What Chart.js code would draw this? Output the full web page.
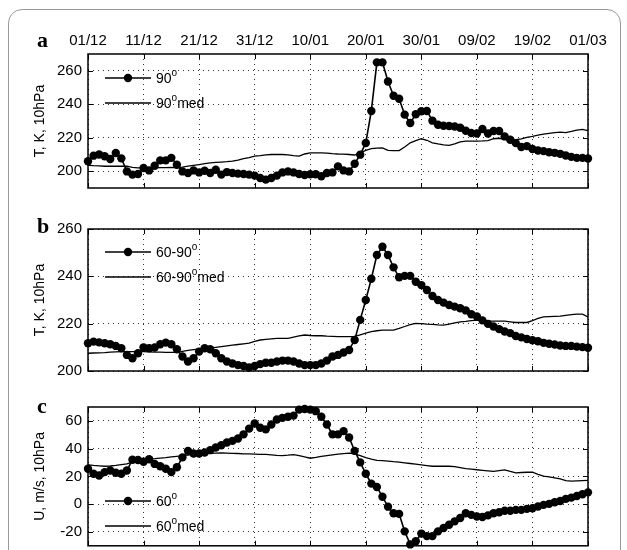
<!DOCTYPE html>
<html>
<head>
<meta charset="utf-8">
<script src="https://cdn.jsdelivr.net/npm/chart.js@4.4.0/dist/chart.umd.min.js"></script>
<style>
  html, body { margin: 0; padding: 0; background: #fff; }
  #wrap { position: relative; width: 627px; height: 550px; overflow: hidden; }
  #frame { position: absolute; left: 8px; top: 9px; width: 613px; height: 620px;
           border: 1.5px solid #999; border-radius: 14px; box-sizing: border-box; }
  canvas { position: absolute; left: 0; top: 0; }
</style>
</head>
<body>
<div id="wrap">
  <div id="frame"></div>
  <canvas id="chartA" width="627" height="550"></canvas>
  <canvas id="chartB" width="627" height="550"></canvas>
  <canvas id="chartC" width="627" height="550"></canvas>
</div>
<script>
// x axis: day index from 01/12 (0) to 01/03 (90)
const xTickDays = [0, 10, 20, 30, 40, 50, 60, 70, 80, 90];
const xTickLabels = ['01/12', '11/12', '21/12', '31/12', '10/01', '20/01', '30/01', '09/02', '19/02', '01/03'];

const yTicksA = [200, 220, 240, 260];
const yTicksB = [200, 220, 240, 260];
const yTicksC = [-20, 0, 20, 40, 60];

// panel a: T at 90N, 10hPa
const t90 = [206, 209.3, 210, 209, 207.3, 210.9, 207.7, 199.9, 198, 198.4,
  201.9, 200.5, 203.3, 206.5, 206.5, 208, 203.9, 199.9, 199, 200.5,
  199.3, 200.3, 199, 200.9, 198, 199.5, 199, 198.6, 198.4, 198,
  197.4, 196, 195, 196, 197.4, 199.3, 199.9, 199.3, 198.4, 197.8,
  198.2, 198.2, 197, 199, 199.3, 202.9, 200.5, 199.9, 204.5, 209.9,
  216.9, 236, 265, 265, 253.6, 245.1, 243.3, 233.8, 228.8, 234,
  235.8, 236, 230.2, 227.8, 227.2, 227, 226.7, 226, 224.2, 222.8,
  222.5, 225.2, 222.5, 224, 224, 220.8, 218.8, 216.8, 214.5, 215,
  213.3, 212.4, 212, 211.3, 211, 210.4, 209.4, 208.6, 208, 208, 207.6];
const t90med = [203.5, 203.3, 203.2, 203, 203, 203, 203, 203, 202.3, 202,
  202, 202, 202, 202.2, 202.2, 202.3, 202.2, 202.5, 203, 203.5,
  204, 204.5, 205, 205.3, 205.5, 205.7, 206, 206.7, 207.5, 208.2,
  209, 209.3, 209.8, 210, 210, 210, 209.8, 209.3, 209, 210.3,
  211, 211, 211, 210.8, 210.5, 210.3, 210.2, 210, 209.7, 211,
  212.5, 213.5, 213.8, 214, 212.5, 212.3, 212.3, 214.5, 217, 218.3,
  219.4, 218.5, 217, 216.3, 215.7, 215.5, 216.3, 217.5, 218, 218,
  218, 218.1, 218.3, 219.4, 219.7, 219.2, 219, 218.8, 219.3, 220.2,
  220.8, 221.5, 222.2, 222.6, 223, 223.3, 223.1, 223.8, 224.6, 225, 224.2];

// panel b: T averaged 60-90N, 10hPa
const t6090 = [211.7, 212.4, 212.1, 211.7, 211.3, 210.6, 209.6, 206.8, 205.4, 207.5,
  210, 209.6, 209.9, 211.3, 212, 211.3, 209.2, 206.1, 204, 205.4,
  208.2, 209.6, 209.2, 207.5, 205.4, 204, 203.2, 202.5, 202.1, 201.5,
  202.1, 202.9, 203.5, 203.5, 204, 204.4, 204.4, 204, 203.2, 202.5,
  202.5, 202.5, 203.2, 204.4, 206.1, 206.8, 207.8, 208.9, 213.1, 221.6,
  230, 239, 249, 252.5, 249, 243.8, 239.6, 240.2, 240.2, 237.7,
  236.3, 234.2, 231.7, 230, 228.9, 227.9, 227.2, 226.5, 225.6, 224,
  223, 221.4, 219.9, 218.8, 217.7, 216.7, 216, 214.8, 214.2, 213.5,
  213, 212.6, 211.9, 211.5, 211.2, 210.8, 210.6, 210.6, 210.3, 210.1, 209.8];
const t6090med = [207.5, 207.6, 207.7, 207.8, 208, 208.1, 208.2, 208.2, 208.2, 208.2,
  208.2, 208.1, 208, 208, 207.9, 207.9, 207.9, 208.3, 208.7, 209,
  209.2, 209.4, 209.7, 210, 210.3, 210.6, 210.9, 211.2, 211.5, 211.8,
  212.5, 213.1, 213.4, 213.6, 213.8, 213.8, 213.8, 214.3, 214.8, 215.2,
  215, 214.9, 214.9, 214.7, 214.6, 214.5, 214.5, 214.5, 214.6, 215.3,
  216, 216.6, 217, 217.3, 217.3, 217.3, 218, 218.8, 219.6, 220.1,
  220, 219.8, 219.7, 219.5, 219.4, 219.8, 220.3, 220.8, 221, 221.3,
  221.5, 221.3, 221.1, 221.1, 221.1, 221.1, 220.8, 220.5, 220.5, 220.5,
  221.3, 222.2, 222.9, 223, 223.1, 223.2, 223.5, 223.8, 224, 224, 222.8];

// panel c: zonal wind at 60N, 10hPa
const u60 = [25.5, 21.9, 20.7, 23.1, 24.2, 22.6, 21.9, 24.2, 32, 31.8,
  30.6, 32.4, 29, 27.3, 25.5, 23.1, 26.6, 33.7, 38.4, 36.5,
  36.5, 37.2, 38.9, 40.8, 42.4, 44.4, 45.6, 47.3, 50.3, 54.4,
  58.1, 55.1, 53.9, 57.4, 61, 62.2, 63, 63.8, 68.1, 68.6,
  68.1, 67, 63, 57.4, 50.3, 50.3, 52.6, 48, 38.4, 30.1,
  21.9, 14.8, 12.4, 5.3, -1.8, -6.5, -7, -19.6, -29, -26.7,
  -21.2, -23, -23, -19.6, -17.2, -14.8, -12.4, -10, -6.5, -7.7,
  -8.9, -9.3, -8.1, -6.5, -5.8, -4.8, -4.8, -4.1, -4.1, -3.4,
  -2.9, -1.7, -0.5, 0.2, 1.4, 2.3, 3.8, 4.7, 5.9, 7.1, 8.5];
const u60med = [28.3, 27.9, 27.6, 27.3, 27.5, 27.9, 28.5, 29, 30.2, 31.4,
  32, 32.5, 32.8, 33.2, 33.6, 34.1, 34.5, 34.9, 35.3, 35.8,
  36.2, 36.4, 36.6, 36.8, 36.9, 36.8, 36.6, 36.5, 36.3, 36.2,
  36.1, 35.9, 35.8, 35.5, 35.2, 35, 35.3, 35.7, 35, 34,
  33.1, 33.7, 34.4, 35, 35.5, 36, 36.4, 36.7, 36.2, 35,
  33.5, 32.5, 31.6, 31.3, 31, 30.6, 30.3, 29.8, 29.3, 28.8,
  28.3, 27.8, 27.3, 27.3, 27.3, 27.3, 27, 26.3, 25.6, 25.2,
  24.8, 24.4, 24, 23.6, 24.2, 24.7, 23.6, 22.6, 22.8, 23,
  23.1, 21.5, 20.2, 19.6, 19, 18.3, 17, 16.6, 16.8, 17, 17.1];

function points(arr) {
    return arr.map((v, i) => ({ x: i, y: v }));
}

// frame, inner ticks, panel letter, axis title and legend (matlab look)
const panelDecor = {
    id: 'panelDecor',
    afterDraw(chart, args, o) {
        const ctx = chart.ctx;
        const ca = chart.chartArea;
        const xs = chart.scales.x;
        const ys = chart.scales.y;
        ctx.save();
        ctx.strokeStyle = '#000';
        ctx.lineWidth = 1;
        ctx.beginPath();
        xTickDays.forEach(function (d) {
            const px = Math.round(xs.getPixelForValue(d)) + 0.5;
            ctx.moveTo(px, ca.top); ctx.lineTo(px, ca.top + 5);
            ctx.moveTo(px, ca.bottom); ctx.lineTo(px, ca.bottom - 5);
        });
        o.yTicks.forEach(function (v) {
            const py = Math.round(ys.getPixelForValue(v)) + 0.5;
            ctx.moveTo(ca.left, py); ctx.lineTo(ca.left + 5, py);
            ctx.moveTo(ca.right, py); ctx.lineTo(ca.right - 5, py);
        });
        ctx.stroke();
        ctx.lineWidth = 1.5;
        ctx.strokeRect(ca.left, ca.top, ca.right - ca.left, ca.bottom - ca.top);

        ctx.fillStyle = '#000';
        ctx.font = 'bold 22px "Liberation Serif"';
        ctx.textAlign = 'left';
        ctx.textBaseline = 'alphabetic';
        ctx.fillText(o.letter, 37, o.letterY);

        ctx.save();
        ctx.translate(43.5, (ca.top + ca.bottom) / 2);
        ctx.rotate(-Math.PI / 2);
        ctx.font = '14px "Liberation Sans"';
        ctx.textAlign = 'center';
        ctx.fillText(o.title, 0, 0);
        ctx.restore();

        // legend
        o.legend.forEach(function (e) {
            ctx.lineWidth = e.dot ? 1.6 : 1.3;
            ctx.beginPath();
            ctx.moveTo(105, e.y); ctx.lineTo(151, e.y);
            ctx.stroke();
            if (e.dot) {
                ctx.beginPath();
                ctx.arc(128, e.y, 4.2, 0, Math.PI * 2);
                ctx.fill();
            }
            ctx.textAlign = 'left';
            ctx.textBaseline = 'middle';
            let x = 156;
            ctx.font = '14px "Liberation Sans"';
            ctx.fillText(e.text, x, e.y + 1);
            x += ctx.measureText(e.text).width;
            ctx.font = '10px "Liberation Sans"';
            ctx.fillText('o', x, e.y - 5);
            x += ctx.measureText('o').width;
            if (e.suffix) {
                ctx.font = '14px "Liberation Sans"';
                ctx.fillText(e.suffix, x, e.y + 1);
            }
        });
        ctx.restore();
    }
};

function makePanel(id, cfg) {
    const tickFont = { family: 'Liberation Sans', size: 15 };
    return new Chart(document.getElementById(id), {
        type: 'line',
        data: {
            datasets: [{
                data: points(cfg.dots),
                borderColor: '#000',
                backgroundColor: '#000',
                borderWidth: 1.6,
                pointRadius: 4.2,
                pointBorderWidth: 0,
                tension: 0,
                clip: false
            }, {
                data: points(cfg.med),
                borderColor: '#000',
                borderWidth: 1.3,
                pointRadius: 0,
                tension: 0
            }]
        },
        options: {
            responsive: false,
            animation: false,
            events: [],
            layout: { padding: cfg.padding },
            plugins: {
                legend: { display: false },
                tooltip: { enabled: false },
                panelDecor: { letter: cfg.letter, letterY: cfg.letterY, title: cfg.title, yTicks: cfg.yTicks, legend: cfg.legend }
            },
            scales: {
                x: {
                    type: 'linear',
                    position: cfg.topLabels ? 'top' : 'bottom',
                    min: 0,
                    max: 90,
                    afterBuildTicks: function (s) { s.ticks = xTickDays.map(v => ({ value: v })); },
                    afterFit: function (s) { s.height = cfg.topLabels ? 20 : 0; },
                    ticks: {
                        display: cfg.topLabels,
                        autoSkip: false,
                        maxRotation: 0,
                        padding: 4,
                        color: '#000',
                        font: tickFont,
                        callback: (v, i) => xTickLabels[i]
                    },
                    grid: { color: '#333', lineWidth: 1, drawTicks: false },
                    border: { display: false, dash: [1, 4] }
                },
                y: {
                    min: cfg.yMin,
                    max: cfg.yMax,
                    afterBuildTicks: function (s) { s.ticks = cfg.yTicks.map(v => ({ value: v })); },
                    afterFit: function (s) {
                        s.width = 40;
                        s.paddingTop = 0;
                        s.paddingBottom = 0;
                    },
                    ticks: { padding: 6, color: '#000', font: tickFont },
                    grid: { color: '#333', lineWidth: 1, drawTicks: false },
                    border: { display: false, dash: [1, 4] }
                }
            }
        },
        plugins: [panelDecor]
    });
}

makePanel('chartA', {
    dots: t90, med: t90med, yMin: 190, yMax: 270, yTicks: yTicksA, topLabels: true,
    padding: { left: 48, right: 39, top: 34, bottom: 362 },
    letter: 'a', letterY: 47, title: 'T, K, 10hPa',
    legend: [{ y: 78, dot: true, text: '90', suffix: '' }, { y: 103, dot: false, text: '90', suffix: 'med' }]
});
makePanel('chartB', {
    dots: t6090, med: t6090med, yMin: 200, yMax: 260, yTicks: yTicksB, topLabels: false,
    padding: { left: 48, right: 39, top: 229, bottom: 179 },
    letter: 'b', letterY: 233, title: 'T, K, 10hPa',
    legend: [{ y: 252, dot: true, text: '60-90', suffix: '' }, { y: 277, dot: false, text: '60-90', suffix: 'med' }]
});
makePanel('chartC', {
    dots: u60, med: u60med, yMin: -30, yMax: 70, yTicks: yTicksC, topLabels: false,
    padding: { left: 48, right: 39, top: 407, bottom: 2 },
    letter: 'c', letterY: 413, title: 'U, m/s, 10hPa',
    legend: [{ y: 501, dot: true, text: '60', suffix: '' }, { y: 526, dot: false, text: '60', suffix: 'med' }]
});
</script>
</body>
</html>
